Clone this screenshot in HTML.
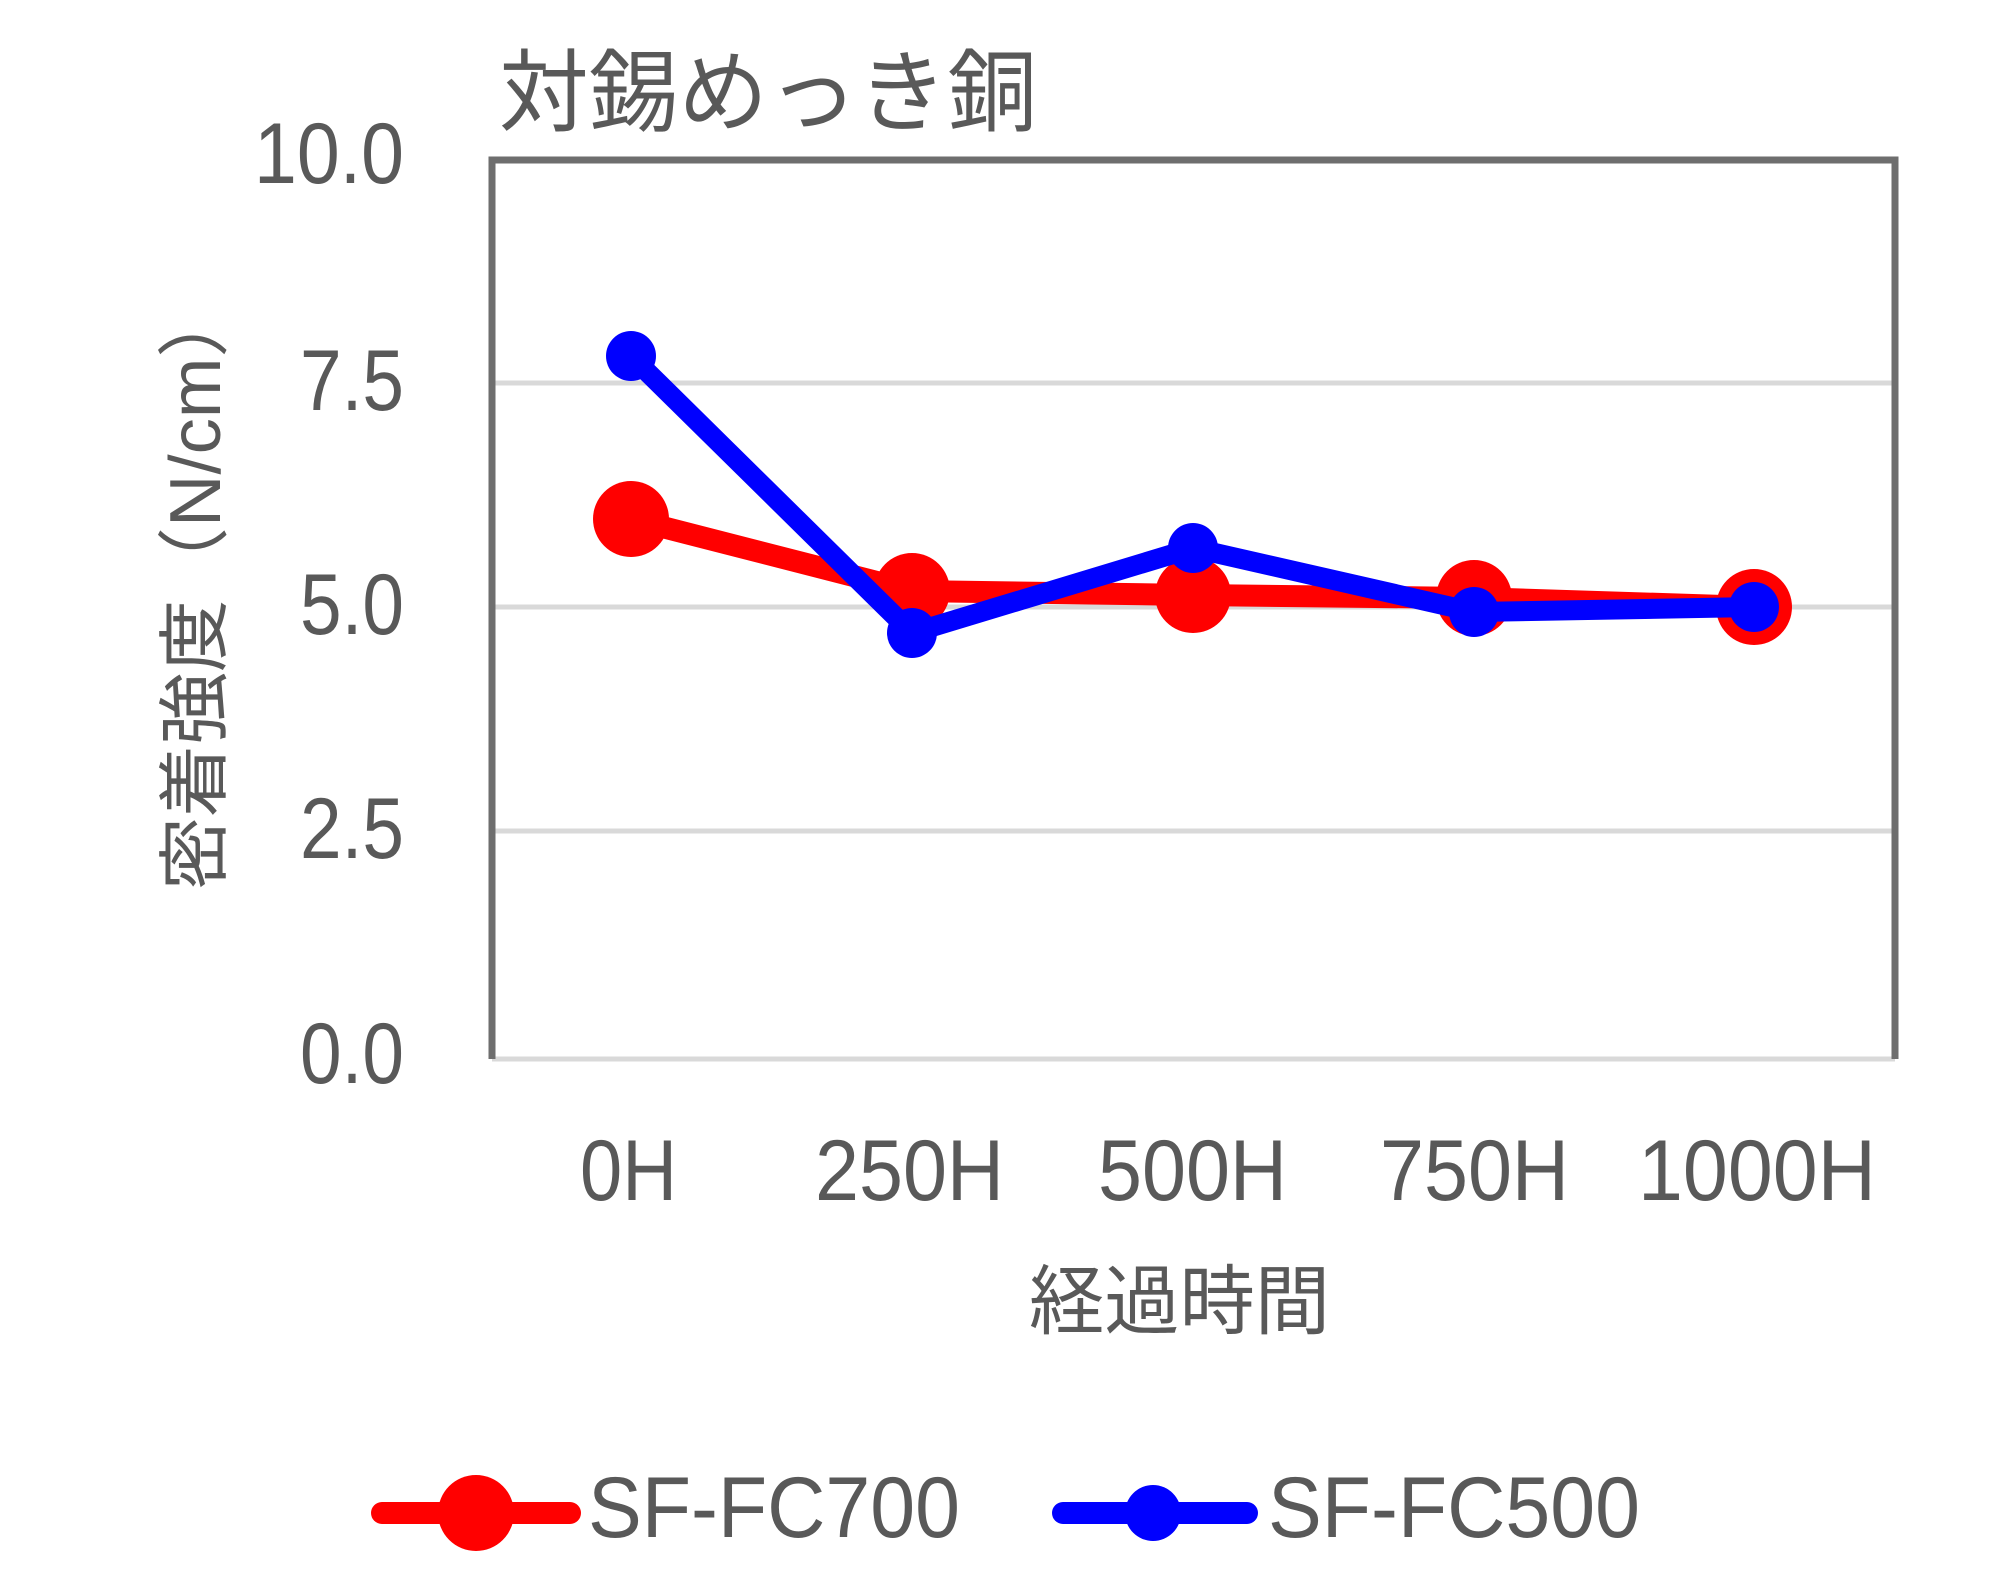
<!DOCTYPE html>
<html><head><meta charset="utf-8"><style>html,body{margin:0;padding:0;background:#fff}svg{display:block}</style></head>
<body>
<svg width="1996" height="1571" viewBox="0 0 1996 1571" xmlns="http://www.w3.org/2000/svg">
<rect width="1996" height="1571" fill="#fff"/>
<g stroke="#d9d9d9" stroke-width="5">
<line x1="492" y1="383" x2="1895" y2="383"/>
<line x1="492" y1="607" x2="1895" y2="607"/>
<line x1="492" y1="831" x2="1895" y2="831"/>
<line x1="492" y1="1059" x2="1895" y2="1059"/>
</g>
<polyline points="492,1059 492,160 1895,160 1895,1059" fill="none" stroke="#6e6e6e" stroke-width="7"/>
<g font-family="Liberation Sans, sans-serif" fill="#595959" font-size="86">
<text x="404" y="183" text-anchor="end" textLength="150" lengthAdjust="spacingAndGlyphs">10.0</text>
<text x="404" y="410" text-anchor="end" textLength="104" lengthAdjust="spacingAndGlyphs">7.5</text>
<text x="404" y="634" text-anchor="end" textLength="104" lengthAdjust="spacingAndGlyphs">5.0</text>
<text x="404" y="858" text-anchor="end" textLength="104" lengthAdjust="spacingAndGlyphs">2.5</text>
<text x="404" y="1083" text-anchor="end" textLength="104" lengthAdjust="spacingAndGlyphs">0.0</text>
<text x="580" y="1200" textLength="97" lengthAdjust="spacingAndGlyphs">0H</text>
<text x="815" y="1200" textLength="189" lengthAdjust="spacingAndGlyphs">250H</text>
<text x="1098" y="1200" textLength="189" lengthAdjust="spacingAndGlyphs">500H</text>
<text x="1380" y="1200" textLength="189" lengthAdjust="spacingAndGlyphs">750H</text>
<text x="1638" y="1200" textLength="238" lengthAdjust="spacingAndGlyphs">1000H</text>
<text x="588" y="1537" textLength="372" lengthAdjust="spacingAndGlyphs">SF-FC700</text>
<text x="1268" y="1537" textLength="372" lengthAdjust="spacingAndGlyphs">SF-FC500</text>
</g>
<g font-family="Liberation Sans, Noto Sans CJK JP, sans-serif" fill="#595959">
<text x="499" y="124" font-size="90" textLength="538" lengthAdjust="spacingAndGlyphs">対錫めっき銅</text>
<text x="1029" y="1328" font-size="76" textLength="301" lengthAdjust="spacingAndGlyphs">経過時間</text>
<text transform="translate(220,890) rotate(-90)" font-size="72" textLength="605" lengthAdjust="spacingAndGlyphs">密着強度（N/cm）</text>
</g>
<polyline points="631,519 912,591 1193,595 1474,598 1754,607" fill="none" stroke="#ff0000" stroke-width="22" stroke-linejoin="round"/>
<g fill="#ff0000">
<circle cx="631" cy="519" r="38"/><circle cx="912" cy="591" r="38"/><circle cx="1193" cy="595" r="38"/><circle cx="1474" cy="598" r="38"/><circle cx="1754" cy="607" r="38"/>
</g>
<polyline points="631,356 912,633 1193,548 1474,612 1754,607" fill="none" stroke="#0000ff" stroke-width="20" stroke-linejoin="round"/>
<g fill="#0000ff">
<circle cx="631" cy="356" r="25"/><circle cx="912" cy="633" r="25"/><circle cx="1193" cy="548" r="25"/><circle cx="1474" cy="612" r="25"/><circle cx="1754" cy="607" r="25"/>
</g>
<line x1="382" y1="1513" x2="570" y2="1513" stroke="#ff0000" stroke-width="22" stroke-linecap="round"/>
<circle cx="476" cy="1513" r="38" fill="#ff0000"/>
<line x1="1063" y1="1513" x2="1247" y2="1513" stroke="#0000ff" stroke-width="22" stroke-linecap="round"/>
<circle cx="1153" cy="1513" r="28" fill="#0000ff"/>
</svg>
</body></html>
